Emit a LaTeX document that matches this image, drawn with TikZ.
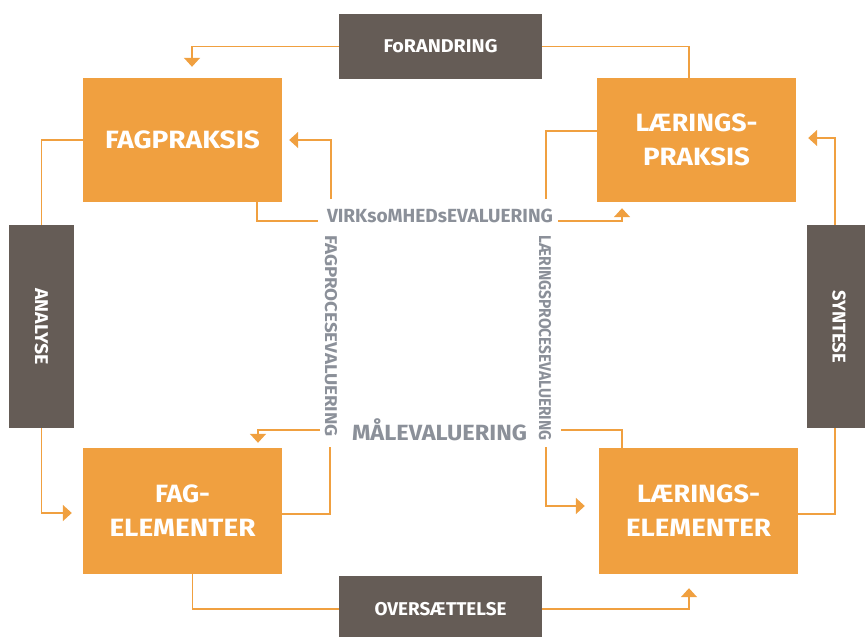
\documentclass[tikz,border=0pt]{standalone}
\usepackage{fontspec}
\setmainfont{Fira Sans}
\usepackage{graphicx}
\usetikzlibrary{arrows.meta}
\definecolor{org}{HTML}{F0A040}
\definecolor{dk}{HTML}{655C56}
\definecolor{gr}{HTML}{8B9099}
\newlength\fitlen
\newcommand\fitw[2]{\settowidth\fitlen{#2}\pgfmathsetmacro\fitsx{#1/\the\fitlen}\scalebox{\fitsx}[1]{#2}}
\begin{document}
\begin{tikzpicture}[x=1pt,y=-1pt,
  obox/.style={fill=org, text=white, minimum width=199pt, minimum height=124pt, inner sep=0pt, font=\fontsize{25}{34}\selectfont\bfseries, align=center},
  dbox/.style={fill=dk, text=white, inner sep=0pt, font=\fontsize{18.5}{22}\selectfont\bfseries},
  glab/.style={text=gr, inner sep=0pt, font=\fontsize{19}{22}\selectfont\bfseries},
  vlab/.style={glab, rotate=-90, font=\fontsize{17}{20}\selectfont\bfseries},
  conn/.style={draw=org, line width=1.6pt},
  arr/.style={conn, -{Triangle[width=16pt,length=9pt]}},
]
\useasboundingbox[fill=white] (0,0) rectangle (865,637);
% orange boxes
\node[obox] (fp) at (182.5,140) {\fitw{155pt}{FAGPRAKSIS}};
\node[obox] (lp) at (696.5,140) {\fitw{122pt}{LÆRINGS-}\\\fitw{107pt}{PRAKSIS}};
\node[obox, minimum height=126pt] (fe) at (182.5,511) {\fitw{55pt}{FAG-}\\\fitw{146pt}{ELEMENTER}};
\node[obox, minimum height=126pt] (le) at (698.5,511) {\fitw{123pt}{LÆRINGS-}\\\fitw{145pt}{ELEMENTER}};
% dark boxes
\node[dbox, minimum width=203pt, minimum height=65pt] (for) at (440.5,46.5) {\fitw{114pt}{FoRANDRING}};
\node[dbox, minimum width=203pt, minimum height=66pt] (ove) at (440.5,609) {\fitw{132pt}{OVERSÆTTELSE}};
\node[dbox, rotate=-90, minimum width=203pt, minimum height=65pt] (ana) at (41.5,326.5) {\fitw{77pt}{ANALYSE}};
\node[dbox, rotate=-90, minimum width=203pt, minimum height=64pt] (syn) at (839,326.5) {\fitw{73pt}{SYNTESE}};
% gray labels
\node[glab] (virk) at (440,216) {\fitw{226pt}{VIRKsoMHEDsEVALUERING}};
\node[glab, font=\fontsize{22}{24}\selectfont\bfseries] (mal) at (439.5,430) {\fitw{175pt}{MÅLEVALUERING}};
\node[vlab] (fpe) at (331,336) {\fitw{202pt}{FAGPROCESEVALUERING}};
\node[vlab] (lpe) at (545,338) {\fitw{205pt}{LÆRINGSPROCESEVALUERING}};
% free ends near labels
\coordinate (v1) at (318,221);
\coordinate (v2) at (558,221);
\coordinate (v3) at (331,199);
\coordinate (v4) at (546,199);
\coordinate (m1) at (320,430);
\coordinate (m2) at (330,447);
\coordinate (m3) at (561,430);
\coordinate (m4) at (546,447);
% outer connectors
\draw[arr, shorten >=11pt] (for.west) -| ([xshift=9.5pt]fp.north);
\draw[conn] (for.east) -| ([xshift=-7.5pt]lp.north);
\draw[conn] (ana.west) |- (fp.west);
\draw[arr, shorten >=11pt] (ana.east) |- ([yshift=-2pt]fe.west);
\draw[arr, shorten >=12pt] ([xshift=-4pt]syn.west) |- ([yshift=2pt]lp.east);
\draw[conn] ([xshift=-4pt]syn.east) |- ([yshift=-3pt]le.east);
\draw[conn] ([xshift=10pt]fe.south) |- (ove.west);
\draw[arr, shorten >=14pt] (ove.east) -| ([xshift=-9.5pt]le.south);
% inner connectors
\draw[conn] ([xshift=74.5pt]fp.south) |- (v1);
\draw[arr, shorten >=6pt] (v2) -| ([xshift=-74.5pt]lp.south);
\draw[arr, shorten >=7pt] (v3) |- (fp.east);
\draw[conn] ([yshift=9pt]lp.west) -| (v4);
\draw[arr, shorten >=5pt] (m1) -| ([xshift=75.5pt]fe.north);
\draw[conn] ([yshift=-3pt]fe.east) -| (m2);
\draw[conn] ([xshift=-76.5pt]le.north) |- (m3);
\draw[arr, shorten >=14pt] (m4) |- ([yshift=5pt]le.west);
\end{tikzpicture}
\end{document}
